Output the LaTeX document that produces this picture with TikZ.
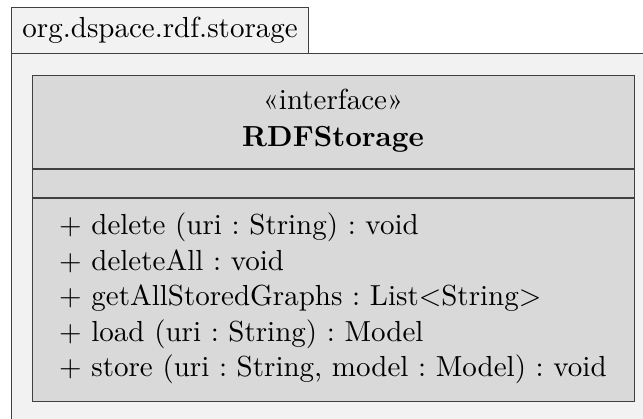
\documentclass[tikz,border=0pt]{standalone}
\usepackage{fontspec}
\setmainfont{lmroman10-regular.otf}[BoldFont=lmroman10-bold.otf]
\usepackage{xcolor}
\frenchspacing

\definecolor{pkgfill}{HTML}{F2F2F2}
\definecolor{classfill}{HTML}{D9D9D9}
\definecolor{umlline}{HTML}{404040}

\tikzset{
  pkgpart/.style={draw=umlline, fill=pkgfill, line width=1.2pt, inner sep=0pt},
  classbox/.style={draw=umlline, fill=classfill, line width=1.2pt, inner sep=0pt},
  umltext/.style={inner sep=0pt, font=\fontsize{29}{35}\selectfont},
}

\begin{document}
\begin{tikzpicture}[x=1pt, y=-1pt]
\useasboundingbox (0,0) rectangle (643,419);

% package
\node[pkgpart, anchor=north west, minimum width=660pt, minimum height=380pt] (pkgbody) at (11,53) {};
\node[pkgpart, anchor=north west, minimum width=297pt, minimum height=46pt, umltext] (pkgtab) at (11,7) {org.dspace.rdf.storage};

% interface
\node[classbox, anchor=north west, minimum width=602pt, minimum height=326pt] (rdfstorage) at (32,75) {};
\coordinate (sepa) at (32,169);
\coordinate (sepb) at (32,198);
\draw[umlline, line width=1.2pt] (sepa) -- (sepa -| rdfstorage.east);
\draw[umlline, line width=1.2pt] (sepb) -- (sepb -| rdfstorage.east);

\node[umltext, anchor=base] (stereo) at (333,110) {«interface»};
\node[umltext, anchor=base, font=\fontsize{29}{35}\selectfont\bfseries] (classname) at (333,147) {RDFStorage};

% operations
\foreach \op [count=\i from 0] in {%
  {+ delete (uri : String) : void},
  {+ deleteAll : void},
  {+ getAllStoredGraphs : List<String>},
  {+ load (uri : String) : Model},
  {+ store (uri : String, model : Model) : void}}
  \node[umltext, anchor=base west] (op\i) at (59,235+35.5*\i) {\op};

\end{tikzpicture}
\end{document}
